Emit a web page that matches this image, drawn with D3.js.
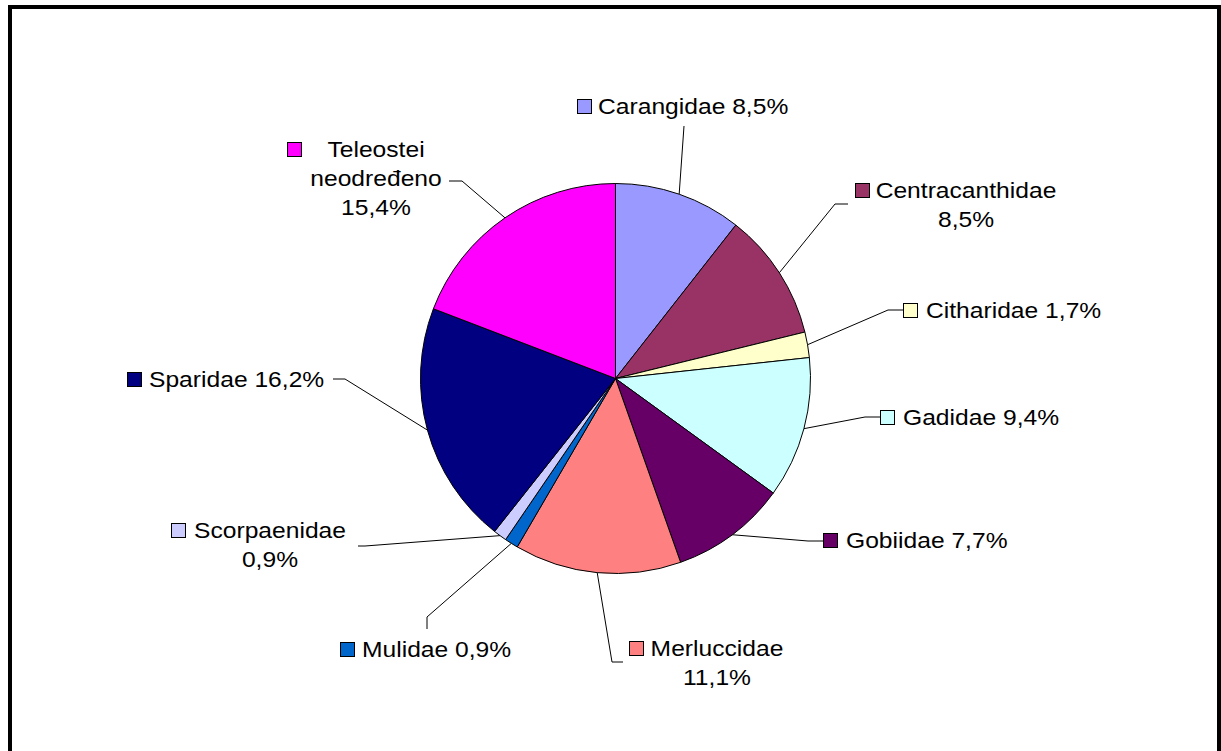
<!DOCTYPE html>
<html>
<head>
<meta charset="utf-8">
<script src="https://cdn.jsdelivr.net/npm/d3@7/dist/d3.min.js"></script>
<style>
	body { margin: 0; background: #fff; }
	text { font-family: "Liberation Sans", Arial, sans-serif; font-size: 22px; fill: #000; }
</style>
</head>
<body>
<svg id="chart"></svg>
<script>
// Data
const families = ["Carangidae", "Centracanthidae", "Citharidae", "Gadidae", "Gobiidae",
	"Merluccidae", "Mulidae", "Scorpaenidae", "Sparidae", "Teleostei neodređeno"];
const shares = [8.5, 8.5, 1.7, 9.4, 7.7, 11.1, 0.9, 0.9, 16.2, 15.4];
const colors = ["#9999FF", "#993366", "#FFFFCC", "#CCFFFF", "#660066",
	"#FF8080", "#0066CC", "#CCCCFF", "#000080", "#FF00FF"];

// Label placement (square top-left, text anchor, leader start and elbow)
const labelLayout = [
	{sx: 577, sy: 99,  tx: 598, ty: 114, anchor: "start",  wrap: false, lead: [[684, 126], [684, 126]]},
	{sx: 855, sy: 183, tx: 966, ty: 198, anchor: "middle", wrap: true,  lead: [[848, 204], [835, 204]]},
	{sx: 903, sy: 303, tx: 926, ty: 318, anchor: "start",  wrap: false, lead: [[903, 310], [888, 310]]},
	{sx: 880, sy: 410, tx: 903, ty: 425, anchor: "start",  wrap: false, lead: [[880, 417], [865, 417]]},
	{sx: 823, sy: 533, tx: 846, ty: 548, anchor: "start",  wrap: false, lead: [[823, 541], [808, 541]]},
	{sx: 629, sy: 641, tx: 717, ty: 656, anchor: "middle", wrap: true,  lead: [[623, 662], [612, 662]]},
	{sx: 340, sy: 642, tx: 362, ty: 657, anchor: "start",  wrap: false, lead: [[427, 629], [427, 617]]},
	{sx: 171, sy: 523, tx: 270, ty: 538, anchor: "middle", wrap: true,  lead: [[358, 546], [365, 546]]},
	{sx: 127, sy: 372, tx: 149, ty: 387, anchor: "start",  wrap: false, lead: [[333, 379], [345, 379]]},
	{sx: 287, sy: 142, tx: 376, ty: 157, anchor: "middle", wrap: true,  lead: [[449, 181], [462, 181]]}
];

const width = 1221, height = 751;
const cx = 615.5, cy = 378.5, radius = 195;
const lineGap = 29;
const fmt = v => d3.format(".1f")(v).replace(".", ",") + "%";

const svg = d3.select("#chart")
	.attr("width", width)
	.attr("height", height);

// Outer frame (bottom edge falls outside the picture)
svg.append("rect")
	.attr("x", 10)
	.attr("y", 7)
	.attr("width", 1209)
	.attr("height", 800)
	.style("fill", "none")
	.style("stroke", "#000")
	.style("stroke-width", 4);

const pie = d3.pie().sort(null).value(d => d);
const arcs = pie(shares);
const arc = d3.arc().innerRadius(0).outerRadius(radius);

const g = svg.append("g")
	.attr("transform", "translate(" + cx + "," + cy + ")");

g.selectAll(".slice")
	.data(arcs)
	.enter().append("path")
	.attr("class", "slice")
	.attr("d", arc)
	.style("fill", (d, i) => colors[i])
	.style("stroke", "#000")
	.style("stroke-width", 1);

// Leader lines: from the label to the slice edge at its mid angle
const edgePoint = d => {
	const a = (d.startAngle + d.endAngle) / 2;
	return [cx + radius * Math.sin(a), cy - radius * Math.cos(a)];
};

svg.selectAll(".leader")
	.data(arcs)
	.enter().append("polyline")
	.attr("class", "leader")
	.attr("points", (d, i) => {
		const L = labelLayout[i].lead;
		return [L[0], L[1], edgePoint(d)].map(p => p.join(",")).join(" ");
	})
	.style("fill", "none")
	.style("stroke", "#000")
	.style("stroke-width", 1);

// Labels
const labels = svg.selectAll(".label")
	.data(arcs)
	.enter().append("g")
	.attr("class", "label");

labels.append("rect")
	.attr("x", (d, i) => labelLayout[i].sx + 0.5)
	.attr("y", (d, i) => labelLayout[i].sy + 0.5)
	.attr("width", 14)
	.attr("height", 14)
	.style("fill", (d, i) => colors[i])
	.style("stroke", "#000")
	.style("stroke-width", 1);

labels.each(function(d, i) {
	const L = labelLayout[i];
	const name = families[i];
	let lines;
	if (L.wrap) {
		lines = name.split(" ").concat([fmt(shares[i])]);
	} else {
		lines = [name + " " + fmt(shares[i])];
	}
	const t = d3.select(this).append("g")
		.attr("transform", "translate(" + L.tx + "," + L.ty + ") scale(1.12,1)")
		.append("text")
		.attr("text-anchor", L.anchor);
	t.selectAll("tspan")
		.data(lines)
		.enter().append("tspan")
		.attr("x", 0)
		.attr("y", (s, k) => k * lineGap)
		.text(s => s);
});
</script>
</body>
</html>
